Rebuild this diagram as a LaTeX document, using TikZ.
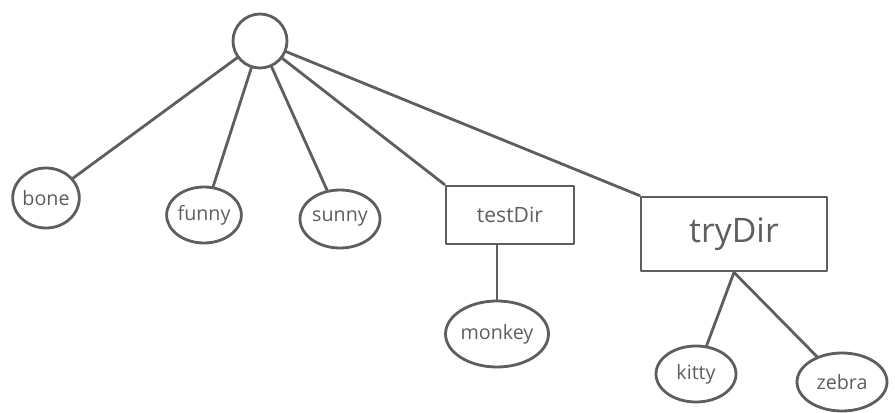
\documentclass[tikz,border=0pt]{standalone}
\usepackage{fontspec}
\setmainfont{Open Sans}
\usetikzlibrary{shapes.geometric}
\begin{document}
\begin{tikzpicture}[x=0.025cm,y=-0.025cm,
  ink/.style={draw=inkgray,line width=2pt,line cap=round,line join=round},
  leaf/.style={ink,ellipse,inner sep=0pt,font=\fontsize{14}{14}\selectfont,text=inkgray},
  dirbox/.style={ink,rectangle,inner sep=0pt,text=inkgray},
  edge/.style={ink}]
\definecolor{inkgray}{HTML}{5E5E5E}
\useasboundingbox (0,0) rectangle (895,413);
% root
\node[ink,circle,minimum size=54*0.025cm] (root) at (260,41) {};
% leaves of the root
\node[leaf,minimum width=64*0.025cm,minimum height=60*0.025cm] (bone) at (46,198) {bone};
\node[leaf,minimum width=72*0.025cm,minimum height=56*0.025cm] (funny) at (204,215) {funny};
\node[leaf,minimum width=80*0.025cm,minimum height=58*0.025cm] (sunny) at (340,219) {sunny};
% directories
\node[dirbox,minimum width=128*0.025cm,minimum height=58*0.025cm,font=\fontsize{15}{15}\selectfont] (testdir) at (510,215) {testDir};
\node[dirbox,minimum width=186*0.025cm,minimum height=74*0.025cm,font=\fontsize{24}{24}\selectfont] (trydir) at (734,234) {tryDir};
% children of the directories
\node[leaf,minimum width=94*0.025cm,minimum height=66*0.025cm] (monkey) at (497,334) {monkey};
\node[leaf,minimum width=80*0.025cm,minimum height=56*0.025cm] (kitty) at (696,374) {kitty};
\node[leaf,minimum width=90*0.025cm,minimum height=58*0.025cm] (zebra) at (842,382) {zebra};
% connectors
\draw[edge] (root) -- (bone);
\draw[edge] (root) -- (funny);
\draw[edge] (root) -- (sunny);
\draw[edge] (root) -- (testdir.north west);
\draw[edge] (root) -- (trydir.north west);
\draw[edge] (monkey.north |- testdir.south) -- (monkey);
\draw[edge] (trydir.south) -- (kitty);
\draw[edge] (trydir.south) -- (zebra);
\end{tikzpicture}
\end{document}
